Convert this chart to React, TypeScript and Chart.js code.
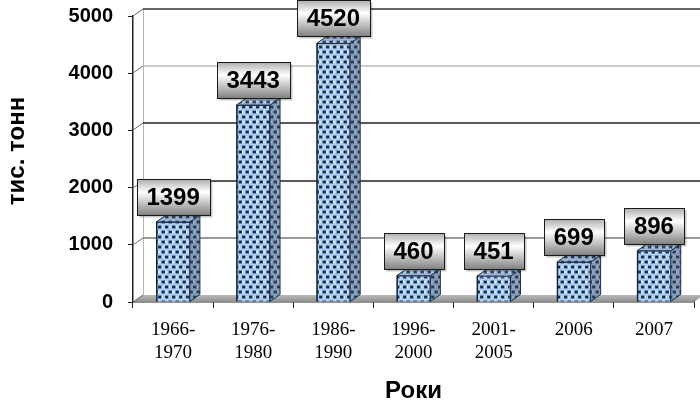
import React, { useEffect, useRef } from "react";
import { Chart, registerables } from "chart.js";

Chart.register(...registerables);

const categories: string[][] = [
  ["1966-", "1970"],
  ["1976-", "1980"],
  ["1986-", "1990"],
  ["1996-", "2000"],
  ["2001-", "2005"],
  ["2006"],
  ["2007"],
];
const production: number[] = [1399, 3443, 4520, 460, 451, 699, 896];
const yTicks: number[] = [0, 1000, 2000, 3000, 4000, 5000];
const yAxisTitle = "тис. тонн";
const xAxisTitle = "Роки";

const DX = 10;
const DY = 7;
const SANS = "'Liberation Sans', Arial, sans-serif";
const SERIF = "'Liberation Serif', 'Times New Roman', serif";
const gridColors: Record<number, string> = {
  0: "#555555",
  1000: "#777777",
  2000: "#222222",
  3000: "#222222",
  4000: "#bdbdbd",
  5000: "#333333",
};

function makePattern(ctx: CanvasRenderingContext2D): CanvasPattern | string {
  const c = document.createElement("canvas");
  c.width = 7;
  c.height = 10;
  const g = c.getContext("2d");
  if (!g) return "#a6cbec";
  g.fillStyle = "#aecff0";
  g.fillRect(0, 0, 7, 10);
  g.fillStyle = "#d8ecfc";
  g.fillRect(4, 1, 2, 2);
  g.fillRect(0, 6, 2, 2);
  g.fillStyle = "#2a4a7a";
  g.fillRect(0.5, 0.5, 3.5, 3);
  g.fillRect(4, 5.5, 3, 3);
  g.fillRect(0, 5.5, 0.5, 3);
  g.fillStyle = "#142848";
  g.fillRect(1, 1, 2.5, 2);
  g.fillRect(4.5, 6, 2.5, 2);
  return ctx.createPattern(c, "repeat") || "#a6cbec";
}

export default function App() {
  const ref = useRef<HTMLCanvasElement | null>(null);

  useEffect(() => {
    const canvas = ref.current;
    if (!canvas) return;
    const ctx0 = canvas.getContext("2d")!;
    const pattern = makePattern(ctx0);

    const threeD = {
      id: "threeD",
      beforeDatasetsDraw(chart: any) {
        const { ctx, chartArea: a, scales } = chart;
        const y = scales.y;
        ctx.save();
        const fg = ctx.createLinearGradient(0, a.bottom - DY, 0, a.bottom);
        fg.addColorStop(0, "#b8b8b8");
        fg.addColorStop(1, "#8f8f8f");
        ctx.fillStyle = fg;
        ctx.beginPath();
        ctx.moveTo(a.left, a.bottom);
        ctx.lineTo(a.right, a.bottom);
        ctx.lineTo(a.right + DX, a.bottom - DY);
        ctx.lineTo(a.left + DX, a.bottom - DY);
        ctx.closePath();
        ctx.fill();
        ctx.strokeStyle = "#b5b5b5";
        ctx.lineWidth = 1;
        ctx.beginPath();
        ctx.moveTo(a.left + DX + 0.5, y.getPixelForValue(5000) - DY);
        ctx.lineTo(a.left + DX + 0.5, a.bottom - DY);
        ctx.stroke();
        yTicks.forEach((v) => {
          const yy = Math.round(y.getPixelForValue(v));
          ctx.strokeStyle = gridColors[v] || "#444";
          ctx.lineWidth = 1.5;
          if (v !== 0) {
            ctx.beginPath();
            ctx.moveTo(a.left + DX, yy - DY);
            ctx.lineTo(a.right + DX + 10, yy - DY);
            ctx.stroke();
          }
          ctx.strokeStyle = "#666";
          ctx.lineWidth = 1;
          ctx.beginPath();
          ctx.moveTo(a.left, yy);
          ctx.lineTo(a.left + DX, yy - DY);
          ctx.stroke();
        });
        ctx.restore();
      },
      afterDatasetsDraw(chart: any) {
        const { ctx } = chart;
        const meta = chart.getDatasetMeta(0);
        ctx.save();
        meta.data.forEach((bar: any) => {
          const { x, y: top, base, width } = bar.getProps(["x", "y", "base", "width"], true);
          const left = x - width / 2;
          const right = x + width / 2;
          ctx.beginPath();
          ctx.moveTo(right, top);
          ctx.lineTo(right + DX, top - DY);
          ctx.lineTo(right + DX, base - DY);
          ctx.lineTo(right, base);
          ctx.closePath();
          ctx.fillStyle = pattern;
          ctx.fill();
          ctx.fillStyle = "rgba(70,80,100,0.4)";
          ctx.fill();
          ctx.strokeStyle = "#1d2d4a";
          ctx.lineWidth = 1;
          ctx.stroke();
          ctx.beginPath();
          ctx.moveTo(left, top);
          ctx.lineTo(left + DX, top - DY);
          ctx.lineTo(right + DX, top - DY);
          ctx.lineTo(right, top);
          ctx.closePath();
          ctx.fillStyle = pattern;
          ctx.fill();
          ctx.fillStyle = "rgba(120,130,150,0.3)";
          ctx.fill();
          ctx.stroke();
          ctx.strokeStyle = "#14243f";
          ctx.lineWidth = 1.5;
          ctx.beginPath();
          ctx.moveTo(left + 0.5, top);
          ctx.lineTo(left + 0.5, base);
          ctx.stroke();
        });
        meta.data.forEach((bar: any, i: number) => {
          const { x, y: top } = bar.getProps(["x", "y"], true);
          const text = String(production[i]);
          ctx.font = `bold 24px ${SANS}`;
          const tw = ctx.measureText(text).width;
          const bw = Math.round(tw + 20);
          const bh = 36;
          const bx = Math.round(x - bw / 2) + 0.5;
          const by = Math.max(Math.round(top - DY - bh), 0) + 0.5;
          ctx.fillStyle = "rgba(0,0,0,0.22)";
          ctx.fillRect(bx + 2, by + 2, bw, bh);
          const gr = ctx.createLinearGradient(0, by, 0, by + bh);
          gr.addColorStop(0, "#b0b0b0");
          gr.addColorStop(0.35, "#ffffff");
          gr.addColorStop(1, "#808080");
          ctx.fillStyle = gr;
          ctx.fillRect(bx, by, bw, bh);
          ctx.strokeStyle = "#1a1a1a";
          ctx.lineWidth = 1;
          ctx.strokeRect(bx, by, bw, bh);
          ctx.fillStyle = "#000";
          ctx.textAlign = "center";
          ctx.textBaseline = "middle";
          ctx.fillText(text, x, by + bh / 2 + 1);
        });
        ctx.restore();
      },
      afterDraw(chart: any) {
        const { ctx } = chart;
        ctx.save();
        ctx.translate(17, 151);
        ctx.rotate(-Math.PI / 2);
        ctx.font = `bold 24px ${SANS}`;
        ctx.fillStyle = "#000";
        ctx.textAlign = "center";
        ctx.textBaseline = "middle";
        ctx.fillText(yAxisTitle, 0, 0);
        ctx.restore();
      },
    };

    const chart = new Chart(canvas, {
      type: "bar",
      data: {
        labels: categories,
        datasets: [
          {
            data: production,
            backgroundColor: pattern as any,
            borderColor: "#23385c",
            borderWidth: 1,
            barPercentage: 0.42,
            categoryPercentage: 1,
          },
        ],
      },
      options: {
        responsive: false,
        maintainAspectRatio: false,
        animation: false,
        devicePixelRatio: 1,
        layout: { padding: { top: 16, right: 6, left: 0, bottom: 0 } },
        plugins: {
          legend: { display: false },
          tooltip: { enabled: false },
        },
        scales: {
          x: {
            ticks: {
              font: { family: SERIF, size: 19 },
              color: "#000",
              padding: 11,
              maxRotation: 0,
              autoSkip: false,
            },
            grid: {
              offset: true,
              drawOnChartArea: false,
              drawTicks: true,
              tickLength: 6,
              color: "#222",
            },
            border: { display: true, color: "#222", width: 1.5 },
            title: {
              display: true,
              text: xAxisTitle,
              font: { family: SANS, size: 24, weight: "bold" },
              color: "#000",
              padding: 0,
            },
            afterFit: (s: any) => {
              s.height = 104;
            },
          },
          y: {
            min: 0,
            max: 5000,
            afterBuildTicks: (s: any) => {
              s.ticks = yTicks.map((v) => ({ value: v }));
            },
            ticks: {
              font: { family: SANS, size: 20, weight: "bold", lineHeight: 0.05 },
              color: "#000",
              padding: 15,
              callback: (v: any) => String(v),
            },
            grid: {
              drawOnChartArea: false,
              drawTicks: true,
              tickLength: 5,
              color: "#222",
            },
            border: { display: true, color: "#222", width: 1.5 },
            afterFit: (s: any) => {
              s.width = 133;
            },
          },
        },
      },
      plugins: [threeD],
    } as any);

    return () => chart.destroy();
  }, []);

  return (
    <div style={{ position: "fixed", left: 0, top: 0, width: 700, height: 406, background: "#fff" }}>
      <canvas ref={ref} width={700} height={406} style={{ display: "block", width: 700, height: 406 }} />
    </div>
  );
}
